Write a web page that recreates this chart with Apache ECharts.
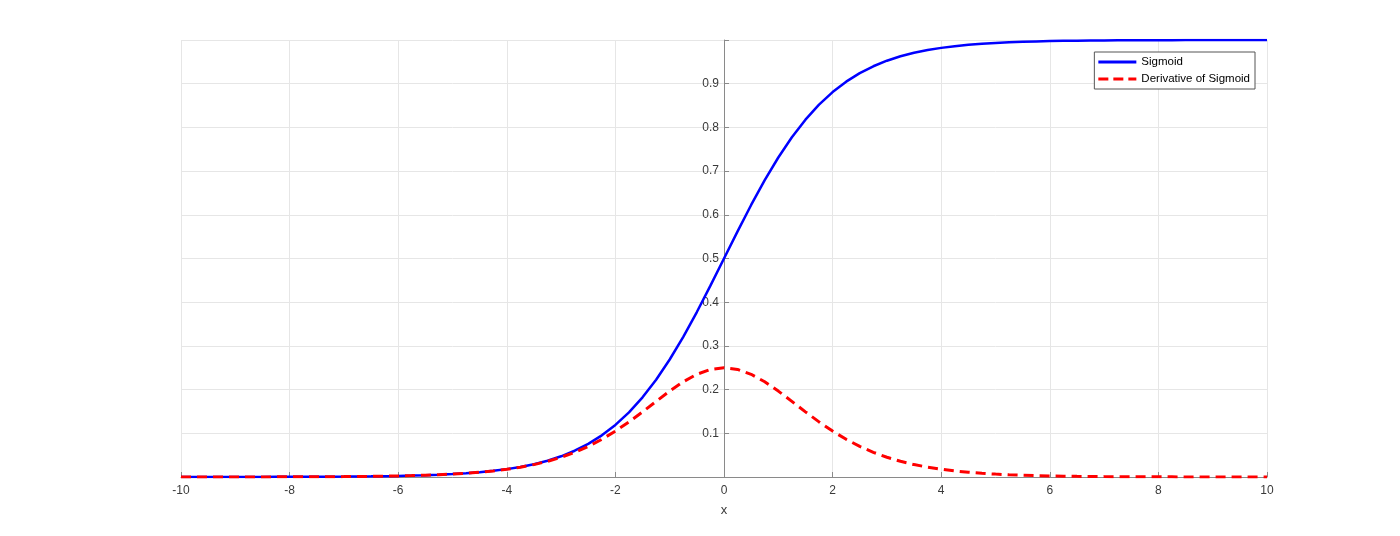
<!DOCTYPE html>
<html>
<head>
<meta charset="utf-8">
<script src="https://cdn.jsdelivr.net/npm/echarts@6/dist/echarts.min.js"></script>
<style>html,body{margin:0;padding:0;background:#fff;}#c{width:1400px;height:536px;}</style>
</head>
<body>
<div id="c"></div>
<script>
const xValues = [-10,-9.75,-9.5,-9.25,-9,-8.75,-8.5,-8.25,-8,-7.75,-7.5,-7.25,-7,-6.75,-6.5,-6.25,-6,-5.75,-5.5,-5.25,-5,-4.75,-4.5,-4.25,-4,-3.75,-3.5,-3.25,-3,-2.75,-2.5,-2.25,-2,-1.75,-1.5,-1.25,-1,-0.75,-0.5,-0.25,0,0.25,0.5,0.75,1,1.25,1.5,1.75,2,2.25,2.5,2.75,3,3.25,3.5,3.75,4,4.25,4.5,4.75,5,5.25,5.5,5.75,6,6.25,6.5,6.75,7,7.25,7.5,7.75,8,8.25,8.5,8.75,9,9.25,9.5,9.75,10];
const sigmoidValues = [0.0000,0.0001,0.0001,0.0001,0.0001,0.0002,0.0002,0.0003,0.0003,0.0004,0.0006,0.0007,0.0009,0.0012,0.0015,0.0019,0.0025,0.0032,0.0041,0.0052,0.0067,0.0086,0.0110,0.0141,0.0180,0.0230,0.0293,0.0373,0.0474,0.0601,0.0759,0.0953,0.1192,0.1480,0.1824,0.2227,0.2689,0.3208,0.3775,0.4378,0.5000,0.5622,0.6225,0.6792,0.7311,0.7773,0.8176,0.8520,0.8808,0.9047,0.9241,0.9399,0.9526,0.9627,0.9707,0.9770,0.9820,0.9859,0.9890,0.9914,0.9933,0.9948,0.9959,0.9968,0.9975,0.9981,0.9985,0.9988,0.9991,0.9993,0.9994,0.9996,0.9997,0.9997,0.9998,0.9998,0.9999,0.9999,0.9999,0.9999,1.0000];
const derivativeValues = [0.0000,0.0001,0.0001,0.0001,0.0001,0.0002,0.0002,0.0003,0.0003,0.0004,0.0006,0.0007,0.0009,0.0012,0.0015,0.0019,0.0025,0.0032,0.0041,0.0052,0.0066,0.0085,0.0109,0.0139,0.0177,0.0225,0.0284,0.0359,0.0452,0.0565,0.0701,0.0862,0.1050,0.1261,0.1491,0.1731,0.1966,0.2179,0.2350,0.2461,0.2500,0.2461,0.2350,0.2179,0.1966,0.1731,0.1491,0.1261,0.1050,0.0862,0.0701,0.0565,0.0452,0.0359,0.0284,0.0225,0.0177,0.0139,0.0109,0.0085,0.0066,0.0052,0.0041,0.0032,0.0025,0.0019,0.0015,0.0012,0.0009,0.0007,0.0006,0.0004,0.0003,0.0003,0.0002,0.0002,0.0001,0.0001,0.0001,0.0001,0.0000];
const seriesNames = ['Sigmoid', 'Derivative of Sigmoid'];

const xMin = -10, xMax = 10;
const gridLeft = 181, gridRight = 133;
const chart = echarts.init(document.getElementById('c'));
const gridWidth = chart.getWidth() - gridLeft - gridRight;
const yAxisOffset = -gridWidth * (0 - xMin) / (xMax - xMin);
const axisColor = '#8a8a8a';
const labelColor = '#3a3a3a';
const font = 'Liberation Sans, Arial, sans-serif';
chart.setOption({
  animation: false,
  backgroundColor: '#fff',
  grid: { left: gridLeft, right: gridRight, top: 40, bottom: 59, containLabel: false },
  legend: {
    orient: 'vertical', right: 145, top: 52,
    backgroundColor: '#fff', borderColor: '#555', borderWidth: 1,
    padding: [4, 5, 4, 4], itemGap: 5, itemWidth: 38, itemHeight: 3,
    textStyle: { fontSize: 11.5, color: '#000', fontFamily: font },
    data: [
      { name: seriesNames[0], icon: 'path://M0,0H38V3H0Z', itemStyle: { color: '#0000ff' } },
      { name: seriesNames[1], icon: 'path://M0,0H10V3H0Z M15,0H25V3H15Z M30,0H38V3H30Z', itemStyle: { color: '#ff0000' } }
    ]
  },
  xAxis: {
    type: 'value', min: xMin, max: xMax, interval: 2,
    name: 'x', nameLocation: 'middle', nameGap: 27,
    nameTextStyle: { fontSize: 13, color: labelColor, fontFamily: font },
    axisLine: { show: true, onZero: true, lineStyle: { color: axisColor, width: 1 } },
    axisTick: { show: true, inside: true, length: 5, lineStyle: { color: axisColor } },
    axisLabel: { fontSize: 12, color: labelColor, margin: 8, fontFamily: font },
    splitLine: { show: true, lineStyle: { color: '#e6e6e6', width: 1 } }
  },
  yAxis: {
    type: 'value', min: 0, max: 1, interval: 0.1, offset: yAxisOffset,
    axisLine: { show: true, onZero: false, lineStyle: { color: axisColor, width: 1 } },
    axisTick: { show: true, inside: true, length: 5, lineStyle: { color: axisColor } },
    axisLabel: {
      fontSize: 12, color: labelColor, margin: 5, fontFamily: font,
      formatter: function (v) { return (v <= 0.0001 || v >= 0.9999) ? '' : v.toFixed(1); }
    },
    splitLine: { show: true, lineStyle: { color: '#e6e6e6', width: 1 } }
  },
  series: [
    {
      name: seriesNames[0], type: 'line', showSymbol: false, symbol: 'none',
      data: xValues.map((x, i) => [x, sigmoidValues[i]]),
      lineStyle: { color: '#0000ff', width: 2.5 }, itemStyle: { color: '#0000ff' }
    },
    {
      name: seriesNames[1], type: 'line', showSymbol: false, symbol: 'none',
      data: xValues.map((x, i) => [x, derivativeValues[i]]),
      lineStyle: { color: '#ff0000', width: 3, type: [10, 6] }, itemStyle: { color: '#ff0000' }
    }
  ]
});
</script>
</body>
</html>
